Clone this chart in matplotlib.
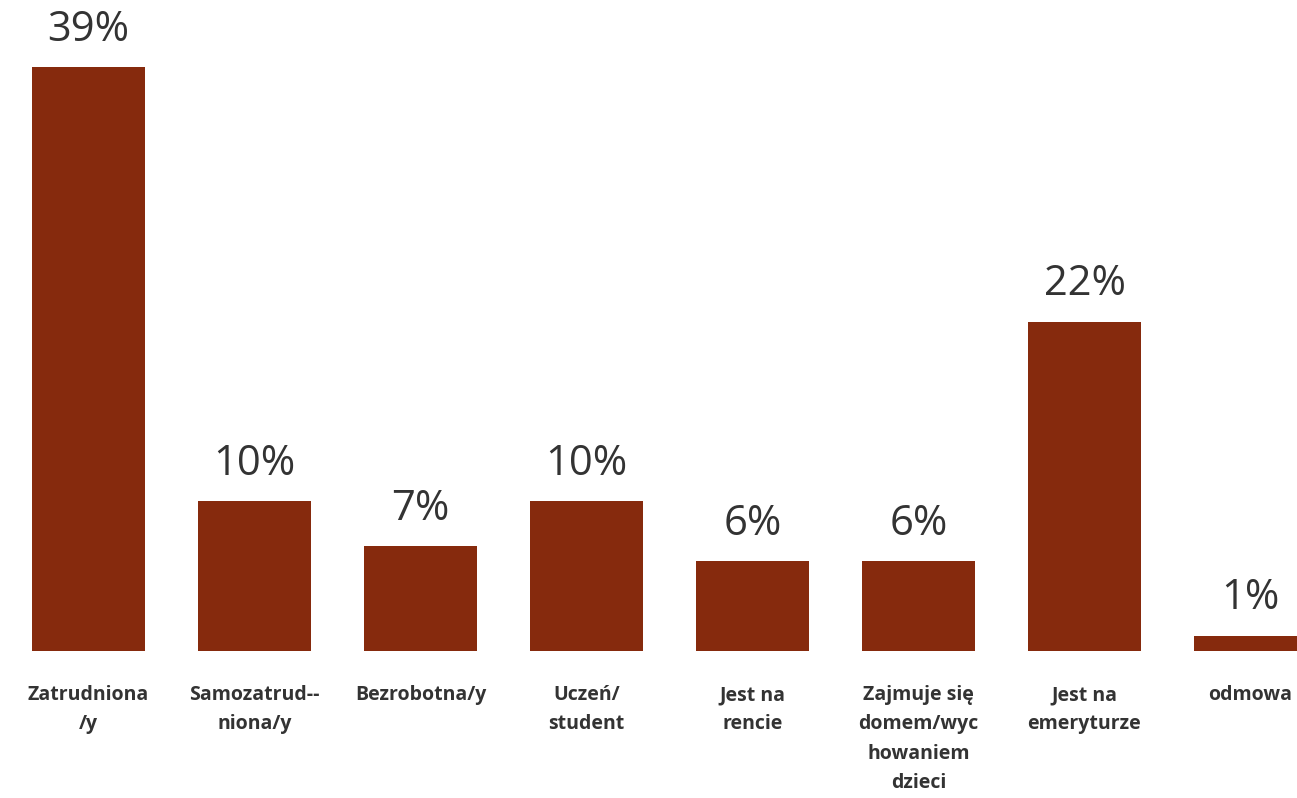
import numpy as np
import matplotlib.pyplot as plt

# categories and values (percent)
categories = ["Zatrudniona\n/y", "Samozatrud--\nniona/y", "Bezrobotna/y", "Uczeń/\nstudent",
              "Jest na\nrencie", "Zajmuje się\ndomem/wyc\nhowaniem\ndzieci", "Jest na\nemeryturze", "odmowa"]
values = [39, 10, 7, 10, 6, 6, 22, 1]

barColor = "#862a0d"
textColor = "#333333"

fig = plt.figure(figsize=(12.97, 7.98), dpi=100)
ax = fig.add_axes([0, 147/798, 1, 651/798])

x = np.arange(len(values))
bars = ax.bar(x, values, width=0.68, color=barColor)

ax.set_xlim(-88.5/166, (1297-88.5)/166)
ax.set_ylim(0, 651/14.97)

# value labels above bars
for b, v in zip(bars, values):
    ax.annotate(str(v)+"%", (b.get_x()+b.get_width()/2, b.get_height()),
                xytext=(0, 12), textcoords="offset points", ha="center", va="bottom",
                fontsize=30, color=textColor, family=["Open Sans", "DejaVu Sans"],
                annotation_clip=False)

# category labels
for i, c in enumerate(categories):
    ax.text(i, -34/14.97, c, ha="center", va="top", fontsize=14, fontweight="bold",
            color=textColor, linespacing=1.62,
            family=["Open Sans", "DejaVu Sans"])

ax.set_xticks([])
ax.set_yticks([])
for s in ax.spines.values():
    s.set_visible(False)

fig.savefig("out.png", dpi=100)
